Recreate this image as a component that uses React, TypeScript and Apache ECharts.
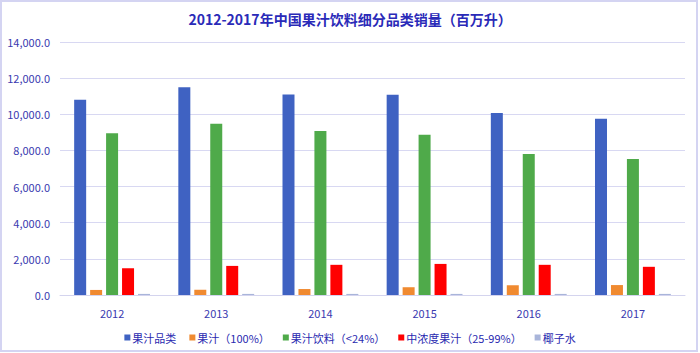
import React, { useEffect, useRef } from "react";
import * as echarts from "echarts";

const years = ["2012", "2013", "2014", "2015", "2016", "2017"];
const seriesNames = ["果汁品类", "果汁（100%）", "果汁饮料（<24%）", "中浓度果汁（25-99%）", "椰子水"];
const juiceCategory = [10800, 11500, 11100, 11080, 10070, 9750];
const juice100 = [280, 290, 330, 430, 540, 550];
const juiceDrink = [8950, 9470, 9070, 8870, 7800, 7520];
const midJuice = [1480, 1610, 1670, 1720, 1670, 1560];
const coconut = [60, 60, 60, 60, 60, 60];
const colors = ["#3f62c2", "#f08a30", "#4faa4a", "#ff0000", "#a9b5da"];

export default function App() {
  const ref = useRef<HTMLDivElement>(null);
  useEffect(() => {
    document.body.style.margin = "0";
    const chart = echarts.init(ref.current!, null, { renderer: "svg" });
    const font = "'Noto Sans CJK SC', 'Noto Sans', sans-serif";
    const data = [juiceCategory, juice100, juiceDrink, midJuice, coconut];
    chart.setOption({
      animation: false,
      backgroundColor: "#ffffff",
      title: {
        text: "2012-2017年中国果汁饮料细分品类销量（百万升）",
        left: "center",
        top: 7,
        textStyle: { color: "#2a2ab8", fontSize: 14, fontWeight: "bold", fontFamily: font },
      },
      legend: {
        bottom: 5,
        left: "center",
        itemWidth: 6,
        itemHeight: 6,
        itemGap: 13,
        icon: "rect",
        textStyle: { color: "#2a2ab0", fontSize: 11, fontFamily: font, padding: [0, 0, 0, -3] },
        data: seriesNames,
      },
      grid: { left: 60, right: 15, top: 42, bottom: 58, containLabel: false },
      xAxis: {
        type: "category",
        data: years,
        axisLine: { lineStyle: { color: "#d4d4ee", width: 1 } },
        axisTick: { show: false },
        axisLabel: { color: "#3a3ab0", fontSize: 11, fontFamily: font, margin: 12 },
      },
      yAxis: {
        type: "value",
        min: 0,
        max: 14000,
        interval: 2000,
        axisLine: { show: false },
        axisTick: { show: false },
        splitLine: { lineStyle: { color: "#d8d8f2", width: 1 } },
        axisLabel: {
          color: "#3a3ab0",
          fontSize: 11,
          fontFamily: font,
          margin: 10,
          formatter: (v: number) => v.toLocaleString("en-US", { minimumFractionDigits: 1, maximumFractionDigits: 1 }),
        },
      },
      series: seriesNames.map((name, i) => ({
        name,
        type: "bar",
        data: data[i],
        barWidth: 12,
        barGap: "33%",
        itemStyle: { color: colors[i] },
      })),
      graphic: [
        {
          type: "rect",
          shape: { x: 1, y: 1, width: 696, height: 350 },
          style: { fill: "none", stroke: "#d4d4f2", lineWidth: 2 },
          silent: true,
        },
      ],
    });
    return () => chart.dispose();
  }, []);
  return <div ref={ref} style={{ width: 700, height: 353 }} />;
}
